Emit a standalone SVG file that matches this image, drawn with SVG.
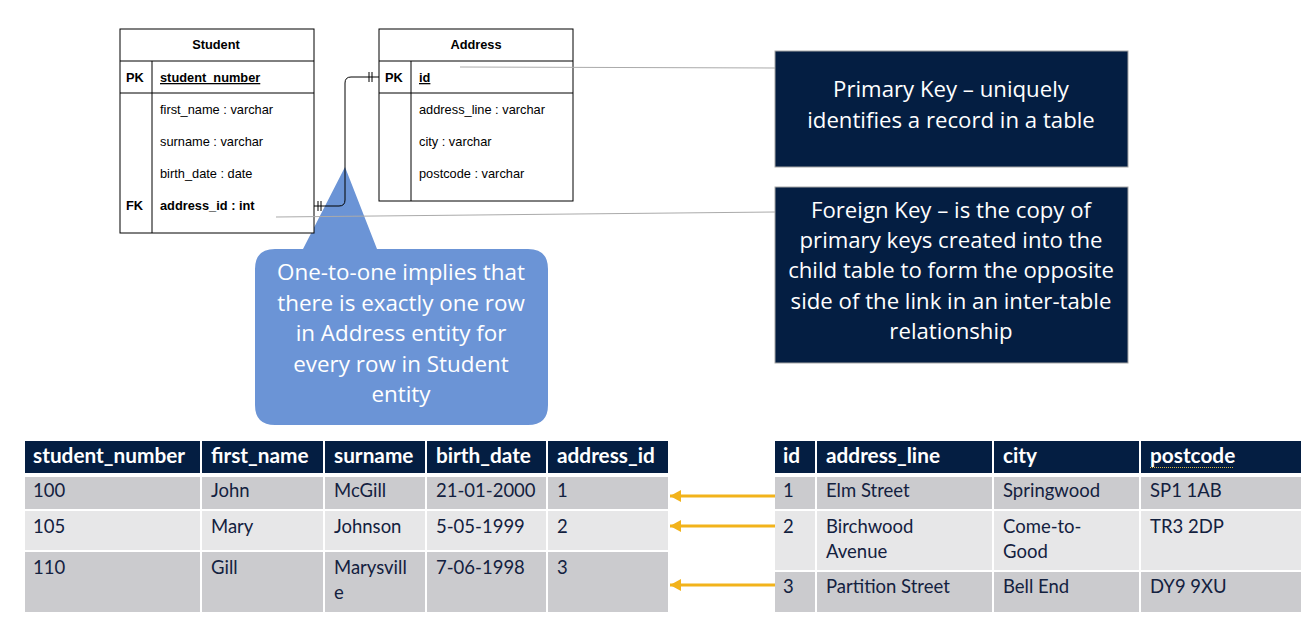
<svg xmlns="http://www.w3.org/2000/svg" width="1313" height="634" viewBox="0 0 1313 634">
<style>
.er{fill:#fff;stroke:#000;stroke-width:1}
.erl{stroke:#000;stroke-width:1;fill:none}
.ert{font-family:"Liberation Sans",Arial,sans-serif;font-size:12.8px;fill:#000}
.b{font-weight:bold}
.note{fill:#041e42;stroke:#a6a6a6;stroke-width:1}
.nt{font-family:"Open Sans","Noto Sans",sans-serif;font-size:22.2px;fill:#fff;text-anchor:middle}
.ct{font-family:"Open Sans","Noto Sans",sans-serif;font-size:22.4px;fill:#fff;text-anchor:middle}
.hd{fill:#041e42}
.r1{fill:#cbcbce}
.r2{fill:#e7e7e8}
.th{font-family:Lato,"Noto Sans",sans-serif;font-size:20.8px;font-weight:bold;fill:#fff}
.td{font-family:Lato,"Noto Sans",sans-serif;font-size:18.5px;fill:#13213f}
.ptr{stroke:#aaa;stroke-width:1;fill:none}
.arr{stroke:#f2b31b;stroke-width:3;fill:none}
</style>
<defs>
<marker id="ah" markerWidth="12" markerHeight="12" refX="11" refY="6" orient="auto" markerUnits="userSpaceOnUse">
<path d="M0,0 L11,6 L0,12 Z" fill="#f2b31b"/>
</marker>
</defs>
<rect width="1313" height="634" fill="#fff"/>

<g id="callout">
<path d="M275,249 L303,249 L345,167 L377,249 L528,249 Q548,249 548,269 L548,405 Q548,425 528,425 L275,425 Q255,425 255,405 L255,269 Q255,249 275,249 Z" fill="#6b94d6"/>
<text class="ct" x="401" y="280">One-to-one implies that</text>
<text class="ct" x="401" y="311">there is exactly one row</text>
<text class="ct" x="401" y="341">in Address entity for</text>
<text class="ct" x="401" y="372">every row in Student</text>
<text class="ct" x="401" y="402">entity</text>
</g>

<g id="student">
<rect class="er" x="120" y="29" width="194" height="204"/>
<line class="erl" x1="120" y1="61" x2="314" y2="61"/>
<line class="erl" x1="120" y1="93" x2="314" y2="93"/>
<line class="erl" x1="152" y1="61" x2="152" y2="233"/>
<text class="ert b" x="216" y="49" text-anchor="middle">Student</text>
<text class="ert b" x="126" y="82">PK</text>
<text class="ert b" x="160" y="82" text-decoration="underline">student_number</text>
<text class="ert" x="160" y="114">first_name : varchar</text>
<text class="ert" x="160" y="146">surname : varchar</text>
<text class="ert" x="160" y="178">birth_date : date</text>
<text class="ert b" x="126" y="210">FK</text>
<text class="ert b" x="160" y="210">address_id : int</text>
</g>

<g id="address">
<rect class="er" x="379" y="29" width="194" height="172"/>
<line class="erl" x1="379" y1="61" x2="573" y2="61"/>
<line class="erl" x1="379" y1="93" x2="573" y2="93"/>
<line class="erl" x1="411" y1="61" x2="411" y2="201"/>
<text class="ert b" x="476" y="49" text-anchor="middle">Address</text>
<text class="ert b" x="385" y="82">PK</text>
<text class="ert b" x="419" y="82" text-decoration="underline">id</text>
<text class="ert" x="419" y="114">address_line : varchar</text>
<text class="ert" x="419" y="146">city : varchar</text>
<text class="ert" x="419" y="178">postcode : varchar</text>
</g>

<g id="connectors">
<path class="erl" d="M314,206 L339,206 Q345,206 345,200 L345,83 Q345,77 351,77 L379,77"/>
<line class="erl" x1="318" y1="201" x2="318" y2="211"/>
<line class="erl" x1="321" y1="201" x2="321" y2="211"/>
<line class="erl" x1="369" y1="72" x2="369" y2="82"/>
<line class="erl" x1="372" y1="72" x2="372" y2="82"/>
<line class="ptr" x1="460" y1="67" x2="775" y2="68"/>
<line class="ptr" x1="276" y1="217" x2="775" y2="212"/>
<line class="arr" x1="775" y1="496" x2="670" y2="496" marker-end="url(#ah)"/>
<line class="arr" x1="775" y1="526" x2="670" y2="526" marker-end="url(#ah)"/>
<line class="arr" x1="775" y1="585" x2="670" y2="585" marker-end="url(#ah)"/>
</g>

<g id="pk-note">
<rect class="note" x="775" y="51" width="353" height="116"/>
<text class="nt" x="951" y="97">Primary Key – uniquely</text>
<text class="nt" x="951" y="128">identifies a record in a table</text>
</g>

<g id="fk-note">
<rect class="note" x="775" y="187" width="353" height="176"/>
<text class="nt" x="951" y="218">Foreign Key – is the copy of</text>
<text class="nt" x="951" y="248">primary keys created into the</text>
<text class="nt" x="951" y="278">child table to form the opposite</text>
<text class="nt" x="951" y="309">side of the link in an inter-table</text>
<text class="nt" x="951" y="339">relationship</text>
</g>

<g id="student-table">
<rect class="hd" x="25" y="441" width="175" height="32"/>
<rect class="hd" x="202" y="441" width="121" height="32"/>
<rect class="hd" x="325" y="441" width="100" height="32"/>
<rect class="hd" x="427" y="441" width="119" height="32"/>
<rect class="hd" x="548" y="441" width="120" height="32"/>
<rect class="r1" x="25" y="477" width="175" height="32"/>
<rect class="r1" x="202" y="477" width="121" height="32"/>
<rect class="r1" x="325" y="477" width="100" height="32"/>
<rect class="r1" x="427" y="477" width="119" height="32"/>
<rect class="r1" x="548" y="477" width="120" height="32"/>
<rect class="r2" x="25" y="511" width="175" height="39"/>
<rect class="r2" x="202" y="511" width="121" height="39"/>
<rect class="r2" x="325" y="511" width="100" height="39"/>
<rect class="r2" x="427" y="511" width="119" height="39"/>
<rect class="r2" x="548" y="511" width="120" height="39"/>
<rect class="r1" x="25" y="552" width="175" height="60"/>
<rect class="r1" x="202" y="552" width="121" height="60"/>
<rect class="r1" x="325" y="552" width="100" height="60"/>
<rect class="r1" x="427" y="552" width="119" height="60"/>
<rect class="r1" x="548" y="552" width="120" height="60"/>
<text class="th" x="33" y="463">student_number</text>
<text class="th" x="211" y="463">first_name</text>
<text class="th" x="334" y="463">surname</text>
<text class="th" x="436" y="463">birth_date</text>
<text class="th" x="557" y="463">address_id</text>
<text class="td" x="33" y="497">100</text>
<text class="td" x="211" y="497">John</text>
<text class="td" x="334" y="497">McGill</text>
<text class="td" x="436" y="497">21-01-2000</text>
<text class="td" x="557" y="497">1</text>
<text class="td" x="33" y="533">105</text>
<text class="td" x="211" y="533">Mary</text>
<text class="td" x="334" y="533">Johnson</text>
<text class="td" x="436" y="533">5-05-1999</text>
<text class="td" x="557" y="533">2</text>
<text class="td" x="33" y="574">110</text>
<text class="td" x="211" y="574">Gill</text>
<text class="td" x="334" y="574">Marysvill</text>
<text class="td" x="334" y="599">e</text>
<text class="td" x="436" y="574">7-06-1998</text>
<text class="td" x="557" y="574">3</text>
</g>

<g id="address-table">
<rect class="hd" x="775" y="441" width="40" height="32"/>
<rect class="hd" x="817" y="441" width="175" height="32"/>
<rect class="hd" x="994" y="441" width="145" height="32"/>
<rect class="hd" x="1141" y="441" width="160" height="32"/>
<rect class="r1" x="775" y="477" width="40" height="32"/>
<rect class="r1" x="817" y="477" width="175" height="32"/>
<rect class="r1" x="994" y="477" width="145" height="32"/>
<rect class="r1" x="1141" y="477" width="160" height="32"/>
<rect class="r2" x="775" y="511" width="40" height="59"/>
<rect class="r2" x="817" y="511" width="175" height="59"/>
<rect class="r2" x="994" y="511" width="145" height="59"/>
<rect class="r2" x="1141" y="511" width="160" height="59"/>
<rect class="r1" x="775" y="572" width="40" height="40"/>
<rect class="r1" x="817" y="572" width="175" height="40"/>
<rect class="r1" x="994" y="572" width="145" height="40"/>
<rect class="r1" x="1141" y="572" width="160" height="40"/>
<text class="th" x="783" y="463">id</text>
<text class="th" x="826" y="463">address_line</text>
<text class="th" x="1003" y="463">city</text>
<text class="th" x="1150" y="463">postcode</text>
<line x1="1150" y1="467.5" x2="1234" y2="467.5" stroke="#d9b84a" stroke-width="1" stroke-dasharray="1,1"/>
<text class="td" x="783" y="497">1</text>
<text class="td" x="826" y="497">Elm Street</text>
<text class="td" x="1003" y="497">Springwood</text>
<text class="td" x="1150" y="497">SP1 1AB</text>
<text class="td" x="783" y="533">2</text>
<text class="td" x="826" y="533">Birchwood</text>
<text class="td" x="826" y="558">Avenue</text>
<text class="td" x="1003" y="533">Come-to-</text>
<text class="td" x="1003" y="558">Good</text>
<text class="td" x="1150" y="533">TR3 2DP</text>
<text class="td" x="783" y="593">3</text>
<text class="td" x="826" y="593">Partition Street</text>
<text class="td" x="1003" y="593">Bell End</text>
<text class="td" x="1150" y="593">DY9 9XU</text>
</g>
</svg>
